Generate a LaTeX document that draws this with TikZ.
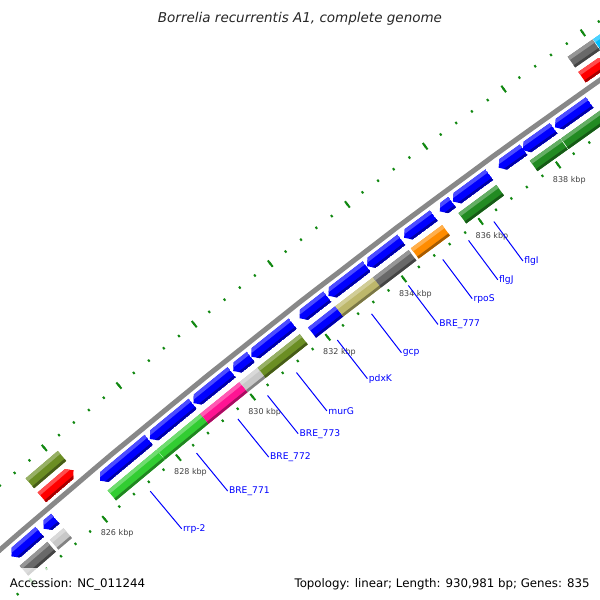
\documentclass[tikz,border=0pt]{standalone}
\usepackage{fontspec}
\setmainfont{DejaVu Sans}
\usetikzlibrary{positioning}

\definecolor{cdsblue}{HTML}{0000FF}
\definecolor{coglime}{HTML}{32CD32}
\definecolor{cogpink}{HTML}{FF1493}
\definecolor{cogsilver}{HTML}{C8C8C8}
\definecolor{cogolive}{HTML}{6B8E23}
\definecolor{cogkhaki}{HTML}{BDB76B}
\definecolor{cogdimgray}{HTML}{696969}
\definecolor{cogorange}{HTML}{FF8C00}
\definecolor{cogforest}{HTML}{228B22}
\definecolor{cogred}{HTML}{FF0000}
\definecolor{cogcyan}{HTML}{00BFFF}
\definecolor{tickgreen}{HTML}{118811}
\definecolor{backbonegray}{HTML}{888888}

\tikzset{
  backbone/.style={draw=backbonegray, line width=2.5pt},
  majortick/.style={draw=tickgreen, line width=1pt},
  minortick/.style={draw=tickgreen, line width=1pt},
  ticklabel/.style={font=\fontsize{4}{4.8}\selectfont, text=black!75, inner sep=0pt},
  labelline/.style={draw=blue, line width=0.5pt},
  genelabel/.style={font=\fontsize{4.6}{5.5}\selectfont, text=blue, anchor=west, inner sep=0.5pt},
  legend/.style={font=\fontsize{5.9}{7}\selectfont, inner sep=0pt},
}

% block on the map: start kbp, end kbp, inner radius, outer radius, colour
\newcommand{\genebox}[5]{%
  \fill[fill=#5] ({ang(#1)}:{#3}) -- ({ang(#1)}:{#4}) -- ({ang(#2)}:{#4}) -- ({ang(#2)}:{#3}) -- cycle;
  \fill[fill=#5!70!white] ({ang(#1)}:{#4-3.8}) -- ({ang(#1)}:{#4}) -- ({ang(#2)}:{#4}) -- ({ang(#2)}:{#4-3.8}) -- cycle;
  \fill[fill=#5!65!black] ({ang(#1)}:{#3}) -- ({ang(#1)}:{#3+2.6}) -- ({ang(#2)}:{#3+2.6}) -- ({ang(#2)}:{#3}) -- cycle;
}
% reverse strand arrow, tip at the start
\newcommand{\revarrow}[4]{%
  \begin{scope}
    \clip ({ang(#1)}:{#3+6.5}) -- ({ang(#1+0.12)}:{#3+13}) -- ({ang(#2)}:{#3+13})
      -- ({ang(#2)}:{#3}) -- ({ang(#1+0.12)}:{#3}) -- cycle;
    \genebox{#1}{#2}{#3}{#3+13}{#4}
  \end{scope}}
% forward strand arrow, tip at the end
\newcommand{\fwdarrow}[4]{%
  \begin{scope}
    \clip ({ang(#1)}:{#3}) -- ({ang(#1)}:{#3+13}) -- ({ang(#2-0.12)}:{#3+13})
      -- ({ang(#2)}:{#3+6.5}) -- ({ang(#2-0.12)}:{#3}) -- cycle;
    \genebox{#1}{#2}{#3}{#3+13}{#4}
  \end{scope}}

\begin{document}
\begin{tikzpicture}[x=0.5pt, y=-0.5pt,
  declare function={ang(\p)=229.68+0.38669*(\p-826);}]
    \useasboundingbox (0,0) rectangle (600,600);
    \clip (0,0) rectangle (600,600);

    % Title
    \node[font=\itshape\fontsize{6.75}{8}\selectfont, anchor=base, text=black!85] (title) at (300,22.7)
      {Borrelia recurrentis A1, complete genome};

    \begin{scope}[shift={(4702,5936)}]
    % Backbone
    \draw[backbone] plot[domain=815:845, samples=61] ({ang(\x)}:7150);

    % Rulers, inside and outside
    \foreach \p in {818,818.4,...,846} {
        \draw[minortick] ({ang(\p)}:7104) -- ({ang(\p)}:7106.5);
        \draw[minortick] ({ang(\p)}:7197.5) -- ({ang(\p)}:7200);
    }
    \foreach \p in {818,820,...,846} {
        \draw[majortick] ({ang(\p)}:7101) -- ({ang(\p)}:7109);
        \draw[majortick] ({ang(\p)}:7194.5) -- ({ang(\p)}:7202.5);
    }
    \foreach \p in {826,828,...,838} {
        \node[ticklabel] (k\p) at ({ang(\p)}:7086) {\p\ kbp};
    }

    % Reverse strand genes
    \foreach \a/\b in {824.02/824.80, 824.90/825.22, 826.44/827.76, 827.79/828.94,
        828.96/829.98, 830.02/830.49, 830.50/831.60, 831.78/832.51, 832.54/833.54,
        833.55/834.45, 834.52/835.29, 835.44/835.76, 835.78/836.72, 836.96/837.60,
        837.58/838.37, 838.40/839.29} {
        \revarrow{\a}{\b}{7131}{cdsblue}
    }

    % Reverse strand COG classes
    \foreach \a/\b/\c in {824.02/824.78/cogdimgray, 824.85/825.22/cogsilver,
        826.43/827.75/coglime, 827.76/828.93/coglime, 828.93/829.98/cogpink,
        829.98/830.46/cogsilver, 830.46/831.58/cogolive, 831.80/832.52/cdsblue,
        832.52/833.51/cogkhaki, 833.51/834.44/cogdimgray, 834.50/835.31/cogorange,
        835.73/836.71/cogforest, 837.57/838.35/cogforest, 838.37/839.40/cogforest} {
        \genebox{\a}{\b}{7112}{7125}{\c}
    }

    % Forward strand genes and COG classes
    \fwdarrow{825.30}{826.16}{7156}{cogred}
    \fwdarrow{839.46}{840.08}{7156}{cogred}
    \fwdarrow{840.12}{842.00}{7156}{cogred}
    \genebox{825.30}{826.17}{7174.5}{7187.5}{cogolive}
    \genebox{839.46}{840.08}{7174.5}{7187.5}{cogdimgray}
    \genebox{840.10}{842.00}{7174.5}{7187.5}{cogcyan}

    % Gene labels
    \foreach \p/\txt [count=\i] in {827.10/rrp-2, 828.35/BRE\_771, 829.47/BRE\_772,
        830.26/BRE\_773, 831.03/murG, 832.12/pdxK, 833.02/gcp, 833.99/BRE\_777,
        834.89/rpoS, 835.56/flgJ, 836.22/flgI} {
        \coordinate (lt\i) at ({ang(\p)}:7097);
        \node[genelabel] (lb\i) at ({ang(\p)}:7048) {\txt};
        \draw[labelline] (lt\i) -- (lb\i.west);
    }
    \end{scope}

    % Legend
    \fill[white, opacity=0.77] (0,567.5) rectangle (152,592);
    \node[legend, anchor=base west] (acc) at (9.5,587.5) {Accession: NC\_011244};
    \node[legend, anchor=base east] (topo) at (590,587.5)
      {Topology: linear; Length: 930,981 bp; Genes: 835};
\end{tikzpicture}
\end{document}
